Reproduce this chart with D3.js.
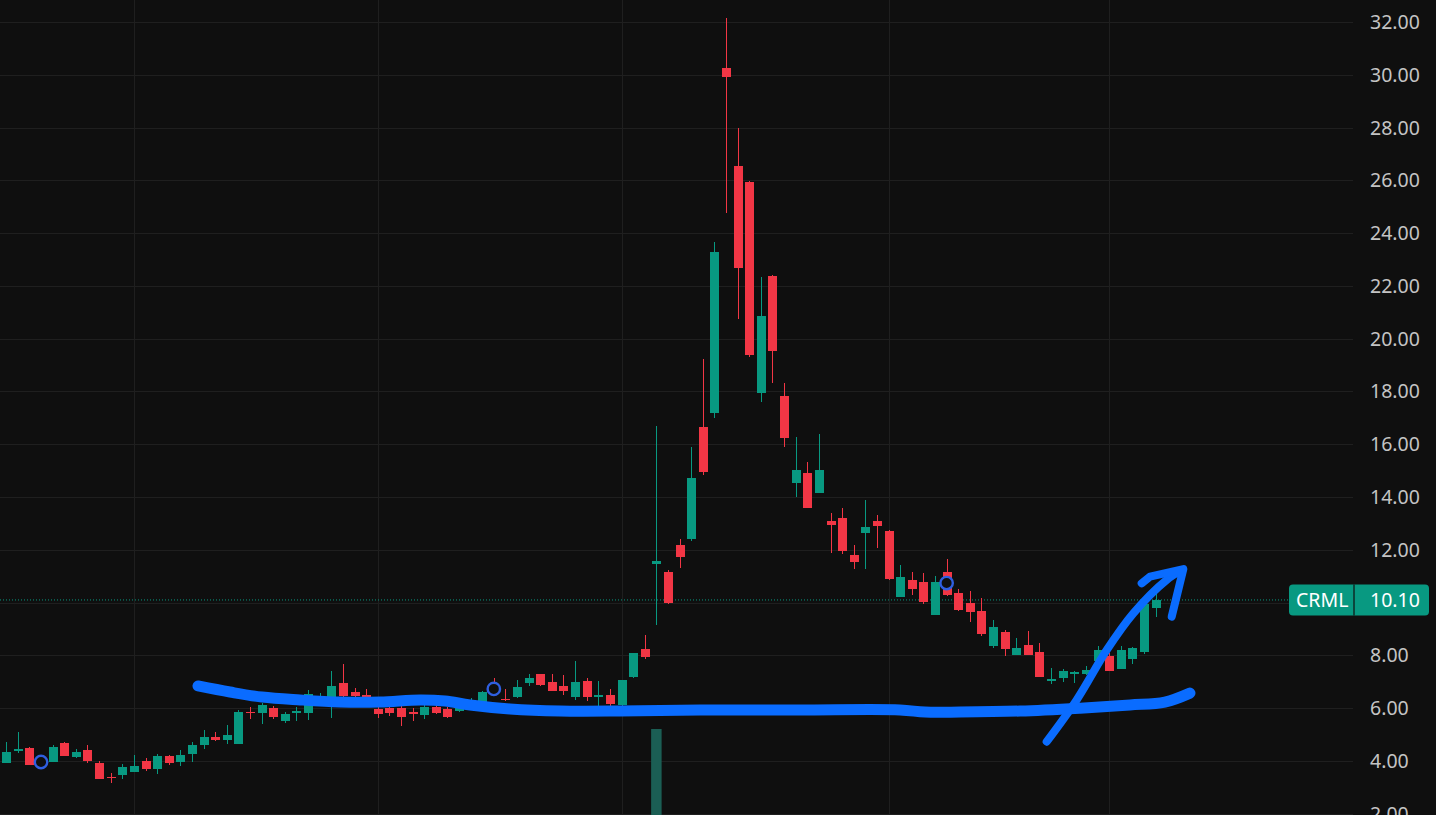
<!DOCTYPE html>
<html>
<head>
<meta charset="utf-8">
<script src="https://cdn.jsdelivr.net/npm/d3@7"></script>
<style>
html,body{margin:0;padding:0;background:#0f0f0f;overflow:hidden;}
svg{display:block;}
</style>
</head>
<body>
<svg id="chart" width="1436" height="815"></svg>
<script>
// ---- Data ----
const symbol = "CRML";
const opens  = [3.93,4.39,4.48,4.05,3.97,4.68,4.16,4.40,3.92,3.40,3.47,3.59,4.00,3.71,4.19,3.97,4.25,4.61,4.92,4.79,
                4.65,5.87,5.80,6.01,5.52,5.80,5.83,6.25,6.20,6.96,6.62,6.50,5.96,6.02,6.02,5.84,5.74,6.03,5.96,5.90,
                6.15,6.23,6.75,6.35,6.43,6.96,7.29,6.99,6.84,6.43,7.02,6.45,6.49,6.12,7.19,8.24,11.47,11.16,12.18,12.42,
                16.65,17.20,30.26,26.54,25.95,17.95,22.38,17.83,14.54,14.91,14.16,13.09,13.20,11.80,12.65,13.09,12.71,10.22,10.86,10.77,
                9.54,11.17,10.35,9.98,9.68,8.37,8.89,8.01,8.39,8.13,7.08,7.15,7.34,7.28,7.80,7.98,7.50,7.87,8.14,9.81];
const highs  = [4.71,5.08,4.52,4.10,4.59,4.72,4.45,4.59,4.00,3.55,3.88,4.22,4.10,4.26,4.21,4.40,4.72,5.17,5.08,5.36,
                5.92,6.04,6.18,6.09,5.85,6.06,6.69,6.58,7.42,7.68,6.75,6.71,6.09,6.10,6.10,6.00,6.12,6.12,6.06,6.08,
                6.40,6.65,7.13,6.71,7.05,7.31,7.29,7.31,7.25,7.77,7.16,7.02,6.73,7.08,8.10,8.76,16.69,11.23,12.40,15.90,
                19.22,23.65,32.15,27.98,25.97,22.34,22.40,18.31,16.27,15.33,16.40,13.38,13.57,12.17,13.89,13.32,12.75,11.42,11.16,11.12,
                11.00,11.65,10.50,10.44,10.16,9.34,8.95,8.66,8.92,8.47,7.51,7.48,7.41,7.60,8.36,8.10,8.36,8.33,10.00,10.67];
const lows   = [3.93,4.31,3.86,3.90,3.95,4.19,4.10,3.93,3.33,3.17,3.33,3.59,3.63,3.52,3.85,3.81,3.97,4.45,4.74,4.65,
                4.65,5.60,5.40,5.58,5.43,5.52,5.55,6.10,5.64,6.30,6.35,6.20,5.64,5.71,5.33,5.53,5.59,5.78,5.62,5.86,
                6.05,6.10,6.45,6.26,6.40,6.83,6.85,6.64,6.51,6.31,6.28,6.10,6.10,6.00,7.15,7.86,9.16,9.93,11.32,12.34,
                14.85,16.98,24.77,20.73,19.29,17.61,18.33,15.91,14.01,13.58,14.14,11.89,11.83,11.28,11.28,12.08,10.87,10.22,10.30,9.96,
                9.54,10.25,9.69,9.27,8.73,8.29,7.99,8.01,8.01,7.19,6.93,7.00,6.94,7.25,7.78,7.40,7.48,7.66,8.06,9.47];
const closes = [4.33,4.44,3.86,3.95,4.52,4.19,4.33,4.00,3.33,3.38,3.77,3.81,3.69,4.18,3.91,4.21,4.59,4.90,4.79,4.97,
                5.85,5.83,6.12,5.68,5.77,5.89,6.54,6.35,6.85,6.46,6.46,6.35,5.78,5.82,5.68,5.81,6.03,5.83,5.65,6.03,
                6.30,6.62,6.55,6.33,6.79,7.16,6.88,6.66,6.65,6.99,6.41,6.48,6.16,7.06,8.08,7.95,11.56,9.99,11.74,14.72,
                14.96,23.27,29.92,22.69,19.38,20.86,19.54,16.25,15.02,13.60,15.02,12.95,11.97,11.55,12.86,12.90,10.90,10.97,10.53,10.02,
                10.77,10.29,9.71,9.65,8.82,9.07,8.25,8.28,8.01,7.19,7.10,7.41,7.36,7.45,8.20,7.42,8.20,8.28,9.96,10.10];
// volume (millions, rough; only the spike reaches into view)
const volumes = [0.6,0.8,0.5,0.4,0.5,0.4,0.3,0.4,0.6,0.4,0.3,0.4,0.3,0.4,0.3,0.3,0.5,0.6,0.4,0.5,
                 1.5,0.9,1.0,0.7,0.5,0.5,1.2,0.8,1.6,1.4,0.6,0.5,0.7,0.5,0.6,0.4,0.5,0.4,0.4,0.3,
                 0.5,0.6,0.7,0.5,0.6,0.7,0.6,0.5,0.5,0.9,0.7,0.5,0.5,1.5,2.5,2.0,60,9,6,14,
                 12,24,28,18,12,10,9,7,5,4,5,3,3,2,3,2,3,2,1.5,1.5,
                 2,2,1.5,1.2,1.5,1.2,1.0,0.8,0.8,1.2,0.8,0.6,0.5,0.5,1.2,0.8,1.0,0.8,3,2.5];
const priceTicks = d3.range(2, 33, 2);
const gridDays = [11, 32, 53, 76, 95];
const eventMarks = [[3, 3.96], [42, 6.73], [81, 10.74]];
// hand-drawn annotations in (bar index, price) space
const supportStroke = [[16.52,6.84],[19.28,6.61],[22.03,6.42],[25.31,6.31],[28.75,6.23],[32.2,6.23],[35.64,6.31],
  [37.8,6.27],[39.95,6.12],[43.39,5.97],[47.7,5.89],[52.87,5.89],[59.76,5.93],[68.37,5.93],[76.99,5.93],
  [79.14,5.85],[82.15,5.85],[87.32,5.89],[92.5,6.0],[96.8,6.12],[99.8,6.23],[101.96,6.57]];
const arrowShaft = [[89.62,4.73],[92.2,6.31],[94.79,8.20],[97.08,9.59],[99.96,10.86],[101.25,11.23]];
const arrowHead = [[97.80,10.73],[98.52,10.98],[101.39,11.27],[100.39,9.47]];

// ---- Layout ----
const W = 1436, H = 815, plotRight = 1353;
const green = "#089981", red = "#f23645";
const svg = d3.select("#chart");
svg.append("rect").attr("width", W).attr("height", H).attr("fill", "#0f0f0f");

const x = d3.scaleLinear().domain([0, 99]).range([6.2, 1155.6]);
const y = d3.scaleLinear().domain([2, 32]).range([813.7, 22]);
const vy = d3.scaleLinear().domain([0, 60]).range([905, 729]);

// grid
const grid = svg.append("g").attr("shape-rendering", "crispEdges");
grid.selectAll("line.h").data(priceTicks).join("line")
  .attr("x1", 0).attr("x2", plotRight)
  .attr("y1", d => Math.round(y(d)) + 0.5).attr("y2", d => Math.round(y(d)) + 0.5)
  .attr("stroke", "#1f1f1f").attr("stroke-width", 1);
grid.selectAll("line.v").data(gridDays).join("line")
  .attr("x1", d => Math.round(x(d)) + 0.5).attr("x2", d => Math.round(x(d)) + 0.5)
  .attr("y1", 0).attr("y2", H)
  .attr("stroke", "#1f1f1f").attr("stroke-width", 1);

// volume
const bars = d3.range(opens.length);
svg.append("g").selectAll("rect").data(bars).join("rect")
  .attr("x", i => x(i) - 5.25).attr("width", 10.5)
  .attr("y", i => vy(volumes[i])).attr("height", i => vy(0) - vy(volumes[i]))
  .attr("fill", i => closes[i] >= opens[i] ? "#1b5e54" : "#6b2a30");

// price line (dotted)
svg.append("line")
  .attr("x1", 0).attr("x2", 1289)
  .attr("y1", y(closes[closes.length - 1])).attr("y2", y(closes[closes.length - 1]))
  .attr("stroke", green).attr("stroke-width", 1).attr("stroke-dasharray", "1,2");

// candles
const cg = svg.append("g").attr("shape-rendering", "crispEdges");
cg.selectAll("line").data(bars).join("line")
  .attr("x1", i => Math.round(x(i)) + 0.5).attr("x2", i => Math.round(x(i)) + 0.5)
  .attr("y1", i => y(highs[i])).attr("y2", i => y(lows[i]))
  .attr("stroke", i => closes[i] >= opens[i] ? green : red).attr("stroke-width", 1);
cg.selectAll("rect").data(bars).join("rect")
  .attr("x", i => Math.round(x(i)) - 4).attr("width", 9)
  .attr("y", i => y(Math.max(opens[i], closes[i])))
  .attr("height", i => Math.max(1.5, Math.abs(y(opens[i]) - y(closes[i]))))
  .attr("fill", i => closes[i] >= opens[i] ? green : red);

// event markers
svg.append("g").selectAll("circle").data(eventMarks).join("circle")
  .attr("cx", d => x(d[0])).attr("cy", d => y(d[1])).attr("r", 6.2)
  .attr("fill", "#0f0f0f").attr("stroke", "#2f5fe0").attr("stroke-width", 2.4);

// hand-drawn annotations
const line = d3.line().x(d => x(d[0])).y(d => y(d[1])).curve(d3.curveCatmullRom.alpha(0.5));
const blue = "#0a6cff";
svg.append("path").attr("d", line(supportStroke)).attr("fill", "none")
  .attr("stroke", blue).attr("stroke-width", 11).attr("stroke-linecap", "round").attr("stroke-linejoin", "round");
svg.append("path").attr("d", line(arrowShaft)).attr("fill", "none")
  .attr("stroke", blue).attr("stroke-width", 8).attr("stroke-linecap", "round").attr("stroke-linejoin", "round");
svg.append("path").attr("d", d3.line().x(d => x(d[0])).y(d => y(d[1]))(arrowHead)).attr("fill", "none")
  .attr("stroke", blue).attr("stroke-width", 8).attr("stroke-linecap", "round").attr("stroke-linejoin", "round");

// price axis labels
const font = "'Noto Sans', 'DejaVu Sans', sans-serif";
svg.append("g").selectAll("text").data(priceTicks).join("text")
  .attr("x", 1370).attr("y", d => y(d)).attr("dy", "0.36em")
  .attr("fill", "#c4c4c4").attr("font-family", font).attr("font-size", 19.5)
  .text(d => d3.format(".2f")(d));

// last price label
const ly = y(closes[closes.length - 1]);
const lab = svg.append("g");
lab.append("rect").attr("x", 1289).attr("y", ly - 15.5).attr("width", 140).attr("height", 31)
  .attr("rx", 4).attr("fill", green);
lab.append("line").attr("x1", 1354).attr("x2", 1354).attr("y1", ly - 15.5).attr("y2", ly + 15.5)
  .attr("stroke", "#0f0f0f").attr("stroke-width", 1.2);
lab.append("text").attr("x", 1296).attr("y", ly).attr("dy", "0.36em")
  .attr("fill", "#ffffff").attr("font-family", font).attr("font-size", 19.5).text(symbol);
lab.append("text").attr("x", 1370).attr("y", ly).attr("dy", "0.36em")
  .attr("fill", "#ffffff").attr("font-family", font).attr("font-size", 19.5)
  .text(d3.format(".2f")(closes[closes.length - 1]));
</script>
</body>
</html>
